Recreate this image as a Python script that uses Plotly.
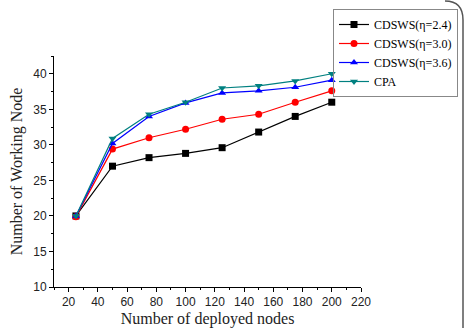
import plotly.graph_objects as go

nodes = [25, 50, 75, 100, 125, 150, 175, 200]
cdsws_24 = [20.0, 27.0, 28.2, 28.8, 29.6, 31.8, 34.0, 36.0]
cdsws_30 = [19.9, 29.4, 31.0, 32.2, 33.6, 34.3, 36.0, 37.6]
cdsws_36 = [20.0, 30.2, 34.0, 35.9, 37.3, 37.6, 38.1, 39.1]
cpa = [20.0, 30.9, 34.3, 36.0, 38.0, 38.3, 39.0, 40.0]

series = [
    ("CDSWS(η=2.4)", cdsws_24, "#000000", "square"),
    ("CDSWS(η=3.0)", cdsws_30, "#FF0000", "circle"),
    ("CDSWS(η=3.6)", cdsws_36, "#0000FF", "triangle-up"),
    ("CPA", cpa, "#008080", "triangle-down"),
]

fig = go.Figure()
for name, vals, col, sym in series:
    fig.add_trace(go.Scatter(
        x=nodes, y=vals, mode="lines+markers", name=name,
        line=dict(color=col, width=1.2),
        marker=dict(color=col, symbol=sym, size=7),
    ))

W, H = 467, 328
L, R, T, B = 54, 106, 56, 41
pw, ph = W - L - R, H - T - B

def px(x):
    return (x - L) / pw

def py(y):
    return (H - B - y) / ph

fig.update_layout(
    width=W, height=H,
    margin=dict(l=L, r=R, t=T, b=B, autoexpand=False),
    plot_bgcolor="white", paper_bgcolor="white",
    showlegend=True,
    legend=dict(
        xref="container", yref="container",
        x=333 / W, y=1 - 9 / H, xanchor="left", yanchor="top",
        bordercolor="#888888", borderwidth=1, bgcolor="rgba(255,255,255,0)",
        font=dict(family="Liberation Serif", size=12, color="#000000"),
        tracegroupgap=0, itemwidth=30,
    ),
    xaxis=dict(
        range=[10, 220], tickvals=list(range(20, 221, 20)), automargin=False,
        showgrid=False, zeroline=False, showline=True, linecolor="#000000", linewidth=1,
        ticks="outside", ticklen=4, tickcolor="#000000",
        minor=dict(ticks="outside", ticklen=2, dtick=10, tick0=0, tickcolor="#000000"),
        tickfont=dict(family="Liberation Sans", size=12, color="#222222"),
        title=dict(text="Number of deployed nodes", standoff=4,
                   font=dict(family="Liberation Serif", size=16, color="#222222")),
    ),
    yaxis=dict(
        range=[10, 42.5], tickvals=[10, 15, 20, 25, 30, 35, 40], automargin=False,
        showgrid=False, zeroline=False, showline=True, linecolor="#000000", linewidth=1,
        ticks="outside", ticklen=4, tickcolor="#000000",
        minor=dict(ticks="outside", ticklen=2, dtick=2.5, tick0=0, tickcolor="#000000"),
        tickfont=dict(family="Liberation Sans", size=12, color="#222222"),
        title=dict(text="Number of Working Node", standoff=6,
                   font=dict(family="Liberation Serif", size=16, color="#222222")),
    ),
)

# image frame edge (rounded corner at top right)
x0 = px(445); x1 = px(463)
y_top = py(1); y_c = py(20); y_bot = py(330)
fig.add_shape(type="path",
              path=f"M {x0} {y_top} Q {x1} {y_top} {x1} {y_c} L {x1} {y_bot}",
              xref="paper", yref="paper",
              line=dict(color="#555555", width=1.5))

fig.write_html("out.html")
